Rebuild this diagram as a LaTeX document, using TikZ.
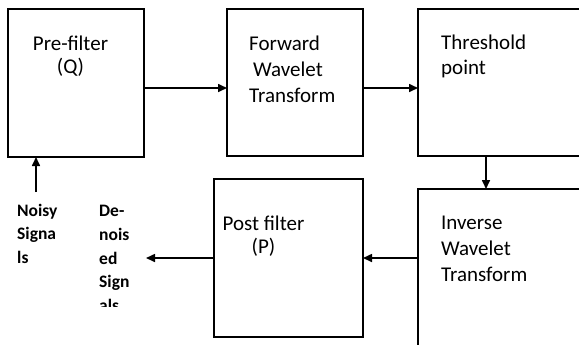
\documentclass[tikz,border=0pt]{standalone}
\usepackage{fontspec}
\setmainfont{Carlito}
\usetikzlibrary{arrows.meta}

\tikzset{
  blk/.style={draw, line width=1.6bp, rectangle, inner sep=0pt, outer sep=0pt, anchor=north west},
  lbl/.style={inner sep=0pt, font=\fontsize{21bp}{26bp}\selectfont},
  side/.style={inner sep=0pt, align=left, anchor=base west, font=\bfseries\fontsize{17.5bp}{23.3bp}\selectfont},
  flow/.style={line width=1.6bp, -{Triangle[length=9bp,width=8bp]}}
}

\begin{document}
\begin{tikzpicture}[x=1bp, y=-1bp]
  \clip (0,0) rectangle (579,344);

  % processing blocks
  \node[blk, minimum width=136bp, minimum height=148bp] (pre)  at (8,9) {};
  \node[blk, minimum width=136bp, minimum height=147bp] (fwt)  at (227,9) {};
  \node[blk, minimum width=190bp, minimum height=147bp] (thr)  at (418,9) {};
  \node[blk, minimum width=190bp, minimum height=175bp] (iwt)  at (418,189) {};
  \node[blk, minimum width=149bp, minimum height=158bp] (post) at (214,179) {};

  % block captions (anchored on the baseline of their last line)
  \node[lbl, align=center, anchor=base] (prelbl) at (70.5,73) {Pre-filter\\[-3bp](Q)};
  \node[lbl, align=left, anchor=base west] (fwtlbl) at (249,102) {Forward\\\hspace*{4bp}Wavelet\\Transform};
  \node[lbl, align=left, anchor=base west] (thrlbl) at (441,74) {Threshold\\[-1bp]point};
  \node[lbl, align=left, anchor=base west] (iwtlbl) at (441,281) {Inverse\\Wavelet\\Transform};
  \node[lbl, align=center, anchor=base] (postlbl) at (263.5,253) {Post filter\\[-3bp](P)};

  % input and output labels
  \node[side] (noisy) at (17,263.1) {Noisy\\Signa\\ls};
  \begin{scope}
    \clip (90,200) rectangle (140,306.5);
    \node[side, font=\bfseries\fontsize{17.5bp}{23.75bp}\selectfont] (denoised) at (99,311.5) {De-\\nois\\ed\\Sign\\als};
  \end{scope}

  % signal path
  \coordinate (noisyend) at (36,192);
  \coordinate (outend) at (146,258);
  \draw[flow] ([yshift=-5bp]pre.east) -- ([yshift=-5bp]pre.east -| fwt.west);
  \draw[flow] ([yshift=-5.5bp]fwt.east) -- ([yshift=-5.5bp]fwt.east -| thr.west);
  \draw[flow] ([xshift=68bp]thr.south west) -- ([xshift=68bp]iwt.north west);
  \draw[flow] (post.east -| iwt.west) -- (post.east);
  \draw[flow] (post.west) -- (outend);
  \draw[flow] (noisyend) -- (noisyend |- pre.south);
\end{tikzpicture}
\end{document}
